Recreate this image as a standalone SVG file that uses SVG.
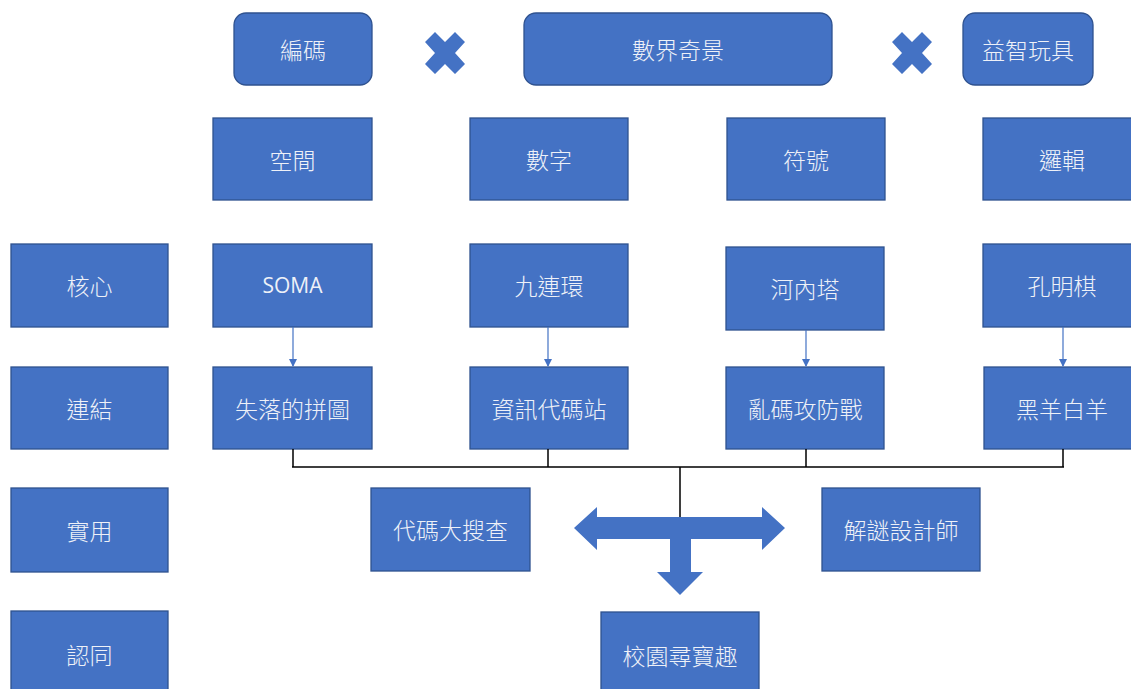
<svg xmlns="http://www.w3.org/2000/svg" width="1131" height="689" viewBox="0 0 1131 689">
<style>
.b{fill:#4472C4;stroke:#2F528F;stroke-width:1.3}
.t{fill:#EEF1F8;font-family:"Noto Sans CJK TC","Noto Sans",sans-serif;font-size:23px;font-weight:300;text-anchor:middle;dominant-baseline:central}
.c{fill:none;stroke:#4472C4;stroke-width:1.2}
.k{fill:none;stroke:#000;stroke-width:1.5}
.s{fill:#4472C4}
</style>
<defs>
<marker id="ah" markerWidth="8" markerHeight="8" refX="7" refY="4" orient="auto" markerUnits="userSpaceOnUse">
<path d="M0,0 L8,4 L0,8 Z" fill="#4472C4"/>
</marker>
</defs>
<rect width="1131" height="689" fill="#fff"/>
<g id="n-bianma"><rect class="b" x="234" y="13" width="138" height="72" rx="12"/><text class="t" x="303" y="49">編碼</text></g>
<g id="n-shujie"><rect class="b" x="524" y="13" width="308" height="72" rx="12"/><text class="t" x="678" y="49">數界奇景</text></g>
<g id="n-yizhi"><rect class="b" x="963" y="13" width="130" height="72" rx="12"/><text class="t" x="1028" y="49">益智玩具</text></g>
<g id="x1"><path class="s" d="M425,42 L435,32 L445,42 L455,32 L465,42 L455,53 L465,64 L455,74 L445,64 L435,74 L425,64 L435,53 Z"/></g>
<g id="x2"><path class="s" d="M892,42 L902,32 L912,42 L922,32 L932,42 L922,53 L932,64 L922,74 L912,64 L902,74 L892,64 L902,53 Z"/></g>
<g id="n-kongjian"><rect class="b" x="213" y="118" width="159" height="82"/><text class="t" x="292.5" y="159">空間</text></g>
<g id="n-shuzi"><rect class="b" x="470" y="118" width="158" height="82"/><text class="t" x="549" y="159">數字</text></g>
<g id="n-fuhao"><rect class="b" x="727" y="118" width="158" height="82"/><text class="t" x="806" y="159">符號</text></g>
<g id="n-luoji"><rect class="b" x="983" y="118" width="150" height="82"/><text class="t" x="1062" y="159">邏輯</text></g>
<g id="n-hexin"><rect class="b" x="11" y="244" width="157" height="83"/><text class="t" x="89.5" y="285">核心</text></g>
<g id="n-lianjie"><rect class="b" x="11" y="367" width="157" height="82"/><text class="t" x="89.5" y="408">連結</text></g>
<g id="n-shiyong"><rect class="b" x="11" y="488" width="157" height="84"/><text class="t" x="89.5" y="530">實用</text></g>
<g id="n-rentong"><rect class="b" x="11" y="611" width="157" height="82"/><text class="t" x="89.5" y="654">認同</text></g>
<g id="n-soma"><rect class="b" x="213" y="244" width="159" height="83"/><text class="t" x="292.5" y="285" style="font-family:'Open Sans','Liberation Sans',sans-serif;font-size:21px;font-weight:400">SOMA</text></g>
<g id="n-jiulianhuan"><rect class="b" x="470" y="244" width="158" height="83"/><text class="t" x="549" y="285">九連環</text></g>
<g id="n-heneita"><rect class="b" x="726" y="247" width="158" height="83"/><text class="t" x="805" y="288">河內塔</text></g>
<g id="n-kongmingqi"><rect class="b" x="983" y="244" width="150" height="83"/><text class="t" x="1062" y="285">孔明棋</text></g>
<g id="n-shiluo"><rect class="b" x="213" y="367" width="159" height="82"/><text class="t" x="292.5" y="408">失落的拼圖</text></g>
<g id="n-zixun"><rect class="b" x="470" y="367" width="158" height="82"/><text class="t" x="549" y="408">資訊代碼站</text></g>
<g id="n-luanma"><rect class="b" x="726" y="367" width="158" height="82"/><text class="t" x="805" y="408">亂碼攻防戰</text></g>
<g id="n-heiyang"><rect class="b" x="984" y="367" width="149" height="82"/><text class="t" x="1062" y="408">黑羊白羊</text></g>
<g id="n-daima"><rect class="b" x="371" y="488" width="159" height="83"/><text class="t" x="450.5" y="529">代碼大搜查</text></g>
<g id="n-jiemi"><rect class="b" x="822" y="488" width="158" height="83"/><text class="t" x="901" y="529">解謎設計師</text></g>
<g id="n-xiaoyuan"><rect class="b" x="601" y="612" width="158" height="82"/><text class="t" x="680" y="655">校園尋寶趣</text></g>
<g id="connectors">
<line class="c" x1="293" y1="327" x2="293" y2="366" marker-end="url(#ah)"/>
<line class="c" x1="548" y1="327" x2="548" y2="366" marker-end="url(#ah)"/>
<line class="c" x1="806" y1="330" x2="806" y2="366" marker-end="url(#ah)"/>
<line class="c" x1="1063" y1="327" x2="1063" y2="366" marker-end="url(#ah)"/>
<path class="k" d="M293,449 V467 M548,449 V467 M806,449 V467 M1063,449 V467 M292,467 H1064 M680,467 V517"/>
<path class="s" d="M574,528 L597,507 L597,517 L762,517 L762,507 L785,528 L762,550 L762,539 L691,539 L691,572 L703,572 L680,595 L657,572 L670,572 L670,539 L597,539 L597,550 Z"/>
</g>
</svg>
